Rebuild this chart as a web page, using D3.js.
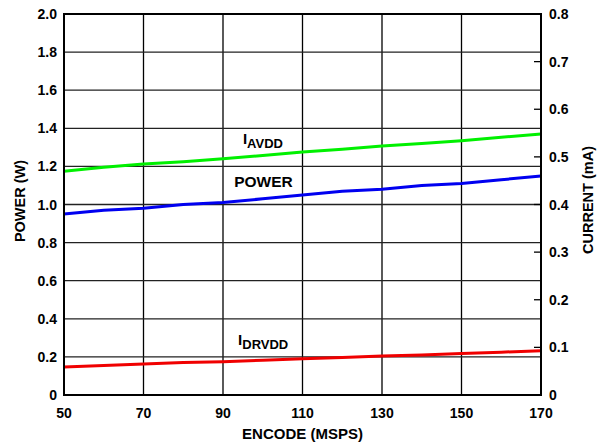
<!DOCTYPE html>
<html>
<head>
<meta charset="utf-8">
<script src="https://cdn.jsdelivr.net/npm/d3@7"></script>
<style>
  body { margin: 0; background: #fff; }
  text { font-family: "Liberation Sans", Arial, sans-serif; font-weight: bold; fill: #000; }
</style>
</head>
<body>
<div id="chart"></div>
<script>
// encode rate (MSPS)
const encode = [50, 60, 70, 80, 90, 100, 110, 120, 130, 140, 150, 160, 170];
// power, W (left axis)
const power = [0.95, 0.97, 0.98, 1.0, 1.01, 1.03, 1.05, 1.07, 1.08, 1.10, 1.11, 1.13, 1.15];
// currents, mA (right axis)
const iAvdd = [0.470, 0.478, 0.485, 0.490, 0.496, 0.503, 0.510, 0.516, 0.523, 0.528, 0.534, 0.541, 0.548];
const iDrvdd = [0.059, 0.062, 0.065, 0.068, 0.070, 0.073, 0.076, 0.079, 0.082, 0.084, 0.087, 0.090, 0.093];

const xTicks = [50, 70, 90, 110, 130, 150, 170];
const yLeftTicks = [0, 0.2, 0.4, 0.6, 0.8, 1.0, 1.2, 1.4, 1.6, 1.8, 2.0];
const yRightTicks = [0, 0.1, 0.2, 0.3, 0.4, 0.5, 0.6, 0.7, 0.8];

const W = 606, H = 444;
const margin = { top: 14, right: 65, bottom: 49, left: 64 };
const width = W - margin.left - margin.right,
  height = H - margin.top - margin.bottom;

const svg = d3.select("#chart").append("svg")
  .attr("width", W).attr("height", H);
const g = svg.append("g")
  .attr("transform", "translate(" + margin.left + "," + margin.top + ")");

const x = d3.scaleLinear().domain([50, 170]).range([0, width]);
const yL = d3.scaleLinear().domain([0, 2]).range([height, 0]);
const yR = d3.scaleLinear().domain([0, 0.8]).range([height, 0]);

// grid
g.append("g").selectAll("line")
  .data(xTicks)
  .join("line")
  .attr("x1", d => x(d)).attr("x2", d => x(d))
  .attr("y1", 0).attr("y2", height)
  .attr("stroke", "#000").attr("stroke-width", 1.3);
g.append("g").selectAll("line")
  .data(yLeftTicks)
  .join("line")
  .attr("x1", 0).attr("x2", width)
  .attr("y1", d => yL(d)).attr("y2", d => yL(d))
  .attr("stroke", "#222").attr("stroke-width", 1.3);

// right axis minor ticks (inward)
g.append("g").selectAll("line")
  .data(yRightTicks)
  .join("line")
  .attr("x1", width - 7).attr("x2", width)
  .attr("y1", d => yR(d)).attr("y2", d => yR(d))
  .attr("stroke", "#000").attr("stroke-width", 1.3);

// series
const lineP = d3.line().x((d, i) => x(encode[i])).y(d => yL(d));
const lineR = d3.line().x((d, i) => x(encode[i])).y(d => yR(d));

g.append("path").datum(iAvdd)
  .attr("fill", "none").attr("stroke", "#00f000").attr("stroke-width", 3)
  .attr("d", lineR);
g.append("path").datum(power)
  .attr("fill", "none").attr("stroke", "#0000f0").attr("stroke-width", 3)
  .attr("d", lineP);
g.append("path").datum(iDrvdd)
  .attr("fill", "none").attr("stroke", "#f00000").attr("stroke-width", 3)
  .attr("d", lineR);

// frame
g.append("rect")
  .attr("x", 0).attr("y", 0).attr("width", width).attr("height", height)
  .attr("fill", "none").attr("stroke", "#000").attr("stroke-width", 2);

// tick labels
g.append("g").selectAll("text")
  .data(xTicks)
  .join("text")
  .attr("x", d => x(d)).attr("y", height + 23)
  .attr("text-anchor", "middle").attr("font-size", 14)
  .text(d => d);
g.append("g").selectAll("text")
  .data(yLeftTicks)
  .join("text")
  .attr("x", -7).attr("y", d => yL(d) + 5)
  .attr("text-anchor", "end").attr("font-size", 14)
  .text(d => d === 0 ? "0" : d3.format(".1f")(d));
g.append("g").selectAll("text")
  .data(yRightTicks)
  .join("text")
  .attr("x", width + 8).attr("y", d => yR(d) + 5)
  .attr("text-anchor", "start").attr("font-size", 14)
  .text(d => d === 0 ? "0" : d3.format(".1f")(d));

// axis titles
svg.append("text")
  .attr("x", margin.left + width / 2).attr("y", 439)
  .attr("text-anchor", "middle").attr("font-size", 15)
  .text("ENCODE (MSPS)");
svg.append("text")
  .attr("transform", "translate(25,201) rotate(-90)")
  .attr("text-anchor", "middle").attr("font-size", 14.5)
  .text("POWER (W)");
svg.append("text")
  .attr("transform", "translate(593,200) rotate(-90)")
  .attr("text-anchor", "middle").attr("font-size", 14.5)
  .text("CURRENT (mA)");

// series labels
function subLabel(px, py, main, sub) {
  const t = g.append("text").attr("x", px).attr("y", py).attr("font-size", 15);
  t.append("tspan").text(main);
  t.append("tspan").attr("dy", 4).attr("font-size", 13).text(sub);
}
subLabel(x(95), yR(0.527), "I", "AVDD");
g.append("text")
  .attr("x", x(92.8)).attr("y", yL(1.094))
  .attr("font-size", 15.5).text("POWER");
subLabel(x(93.8), yR(0.105), "I", "DRVDD");
</script>
</body>
</html>
